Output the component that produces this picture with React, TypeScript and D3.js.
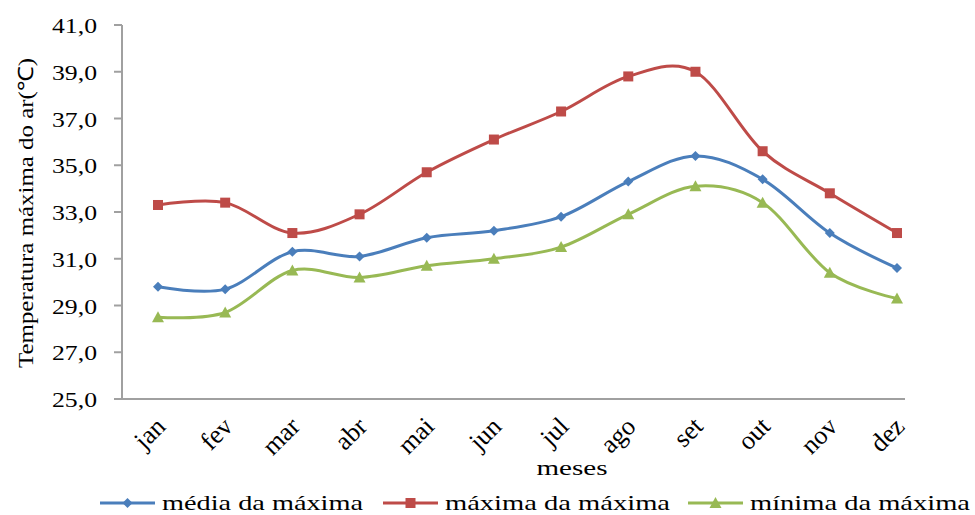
import React from 'react';
import * as d3 from 'd3';

// chart data
const months = ['jan', 'fev', 'mar', 'abr', 'mai', 'jun', 'jul', 'ago', 'set', 'out', 'nov', 'dez'];
const mediaDaMaxima = [29.8, 29.7, 31.3, 31.1, 31.9, 32.2, 32.8, 34.3, 35.4, 34.4, 32.1, 30.6];
const maximaDaMaxima = [33.3, 33.4, 32.1, 32.9, 34.7, 36.1, 37.3, 38.8, 39.0, 35.6, 33.8, 32.1];
const minimaDaMaxima = [28.5, 28.7, 30.5, 30.2, 30.7, 31.0, 31.5, 32.9, 34.1, 33.4, 30.4, 29.3];
const yTicks = [25, 27, 29, 31, 33, 35, 37, 39, 41];

const W = 975;
const H = 515;
const FONT = '"Liberation Serif", "Times New Roman", serif';

const series = [
  { name: 'média da máxima', values: mediaDaMaxima, color: '#4a7ebb', marker: 'diamond', textW: 201 },
  { name: 'máxima da máxima', values: maximaDaMaxima, color: '#be4b48', marker: 'square', textW: 225 },
  { name: 'mínima da máxima', values: minimaDaMaxima, color: '#98b954', marker: 'triangle', textW: 220 },
];

const Marker = ({ type, x, y, color }) => {
  if (type === 'square') return <rect x={x - 5} y={y - 5} width={10} height={10} fill={color} />;
  if (type === 'diamond') return <path d={`M${x},${y - 5}L${x + 5},${y}L${x},${y + 5}L${x - 5},${y}Z`} fill={color} />;
  return <path d={`M${x},${y - 6}L${x + 6},${y + 5}L${x - 6},${y + 5}Z`} fill={color} />;
};

export default function App() {
  const axisLeft = 122;
  const axisRight = 905;
  const x = d3.scalePoint().domain(months).range([158, 897]);
  const y = d3.scaleLinear().domain([25, 41]).range([399, 25]);

  const line = d3.line<number>()
    .x((_, i) => x(months[i]))
    .y(d => y(d))
    .curve(d3.curveCatmullRom.alpha(0));

  const legendX = [100, 383, 688];

  return (
    <svg width={W} height={H} style={{ position: 'absolute', left: 0, top: 0, background: '#fff' }} fontFamily={FONT}>
      {/* y axis */}
      <line x1={axisLeft} x2={axisLeft} y1={y(41)} y2={y(25)} stroke="#a0a0a0" strokeWidth={2} />
      {yTicks.map(t => (
        <g key={t}>
          <line x1={axisLeft - 8} x2={axisLeft} y1={y(t)} y2={y(t)} stroke="#a0a0a0" strokeWidth={2} />
          <text x={97} y={y(t) + 8} textAnchor="end" fontSize={22} fill="#000"
            textLength={45} lengthAdjust="spacingAndGlyphs">{t.toFixed(1).replace('.', ',')}</text>
        </g>
      ))}
      {/* x axis */}
      <line x1={axisLeft} x2={axisRight} y1={y(25)} y2={y(25)} stroke="#a0a0a0" strokeWidth={2} />
      {months.map(m => (
        <text key={m} transform={`translate(${x(m) + 9},${y(25) + 29}) rotate(-45)`} textAnchor="end"
          fontSize={26} fill="#000">{m}</text>
      ))}
      <text x={572} y={475} textAnchor="middle" fontSize={22} textLength={71} lengthAdjust="spacingAndGlyphs">meses</text>
      <text transform="translate(33,213) rotate(-90)" textAnchor="middle" fontSize={21}
        textLength={310} lengthAdjust="spacingAndGlyphs">Temperatura máxima do ar(℃)</text>

      {/* series */}
      {series.map(s => (
        <g key={s.name}>
          <path d={line(s.values)} fill="none" stroke={s.color} strokeWidth={3} />
          {s.values.map((v, i) => (
            <Marker key={i} type={s.marker} x={x(months[i])} y={y(v)} color={s.color} />
          ))}
        </g>
      ))}

      {/* legend */}
      {series.map((s, i) => (
        <g key={s.name}>
          <line x1={legendX[i]} x2={legendX[i] + 55} y1={503} y2={503} stroke={s.color} strokeWidth={3} />
          <Marker type={s.marker} x={legendX[i] + 27.5} y={503} color={s.color} />
          <text x={legendX[i] + 62} y={510} fontSize={22} textLength={s.textW} lengthAdjust="spacingAndGlyphs">{s.name}</text>
        </g>
      ))}
    </svg>
  );
}
